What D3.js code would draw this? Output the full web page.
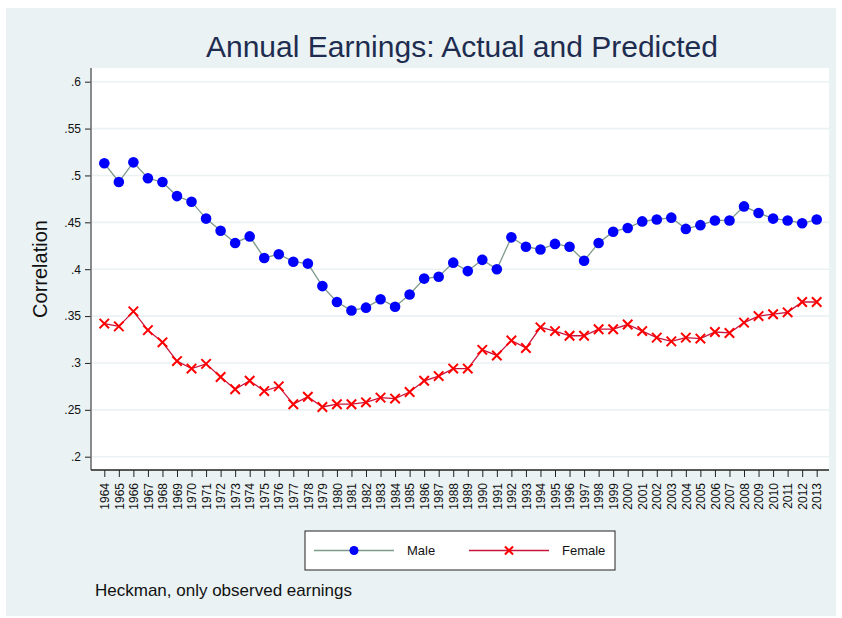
<!DOCTYPE html>
<html>
<head>
<meta charset="utf-8">
<script src="https://cdnjs.cloudflare.com/ajax/libs/d3/7.8.5/d3.min.js"></script>
<style>
  body { margin: 0; background: #fff; }
  text { font-family: Arial, "Liberation Sans", sans-serif; }
</style>
</head>
<body>
<div id="chart"></div>
<script>
// data
const years = d3.range(1964, 2014);
const male = [0.513, 0.493, 0.514, 0.497, 0.493, 0.478, 0.472, 0.454, 0.441, 0.428,
              0.435, 0.412, 0.416, 0.408, 0.406, 0.382, 0.365, 0.356, 0.359, 0.368,
              0.360, 0.373, 0.390, 0.392, 0.407, 0.398, 0.410, 0.400, 0.434, 0.424,
              0.421, 0.427, 0.424, 0.409, 0.428, 0.440, 0.444, 0.451, 0.453, 0.455,
              0.443, 0.447, 0.452, 0.452, 0.467, 0.460, 0.454, 0.452, 0.449, 0.453];
const female = [0.342, 0.339, 0.355, 0.335, 0.322, 0.302, 0.294, 0.299, 0.285, 0.272,
                0.281, 0.270, 0.275, 0.256, 0.264, 0.253, 0.256, 0.256, 0.258, 0.263,
                0.262, 0.269, 0.281, 0.286, 0.294, 0.294, 0.314, 0.308, 0.324, 0.316,
                0.338, 0.334, 0.329, 0.329, 0.336, 0.336, 0.341, 0.334, 0.327, 0.323,
                0.327, 0.326, 0.333, 0.332, 0.343, 0.350, 0.352, 0.354, 0.365, 0.365];
const yTicks = [0.2, 0.25, 0.3, 0.35, 0.4, 0.45, 0.5, 0.55, 0.6];
const yTickLabels = [".2", ".25", ".3", ".35", ".4", ".45", ".5", ".55", ".6"];

const W = 842, H = 618;
const plot = {left: 91, right: 829, top: 68, bottom: 470};

const svg = d3.select("#chart").append("svg")
    .attr("width", W).attr("height", H);

// outer graph region
svg.append("rect")
    .attr("x", 6).attr("y", 8).attr("width", 830).attr("height", 608)
    .attr("fill", "#eaf2f3");

// plot region
svg.append("rect")
    .attr("x", plot.left).attr("y", plot.top)
    .attr("width", plot.right - plot.left).attr("height", plot.bottom - plot.top)
    .attr("fill", "#ffffff");

// scales
const x = d3.scalePoint()
    .domain(years)
    .range([104.3, 816.7]);

const y = d3.scaleLinear()
    .domain([0.2, 0.6])
    .range([456.7, 81.7]);

// gridlines
svg.append("g")
    .selectAll("line")
    .data(yTicks)
    .enter().append("line")
    .attr("x1", plot.left + 1).attr("x2", plot.right)
    .attr("y1", d => y(d)).attr("y2", d => y(d))
    .attr("stroke", "#eaf2f3")
    .attr("stroke-width", 1.6);

// y axis
const yAxis = svg.append("g")
    .attr("transform", "translate(" + plot.left + ",0)")
    .call(d3.axisLeft(y)
        .tickValues(yTicks)
        .tickFormat((d, i) => yTickLabels[i])
        .tickSize(6)
        .tickPadding(4));
yAxis.select(".domain").remove();
yAxis.append("line")
    .attr("x1", 0).attr("x2", 0)
    .attr("y1", plot.top).attr("y2", plot.bottom)
    .attr("stroke", "#666").attr("stroke-width", 1.5);
yAxis.selectAll(".tick line").attr("stroke", "#222");
yAxis.selectAll(".tick text")
    .attr("fill", "#111")
    .style("font-size", "12px");

// x axis
const xAxis = svg.append("g")
    .attr("transform", "translate(0," + plot.bottom + ")")
    .call(d3.axisBottom(x).tickSize(7).tickPadding(3));
xAxis.select(".domain").remove();
xAxis.append("line")
    .attr("x1", plot.left).attr("x2", plot.right)
    .attr("y1", 0).attr("y2", 0)
    .attr("stroke", "#222").attr("stroke-width", 1.3);
xAxis.selectAll(".tick line").attr("stroke", "#222");
xAxis.selectAll(".tick text")
    .attr("fill", "#111")
    .style("font-size", "12px")
    .attr("transform", "rotate(-90)")
    .attr("text-anchor", "end")
    .attr("x", -13)
    .attr("y", 0)
    .attr("dy", "0.35em");

// title
svg.append("text")
    .attr("x", 462).attr("y", 57)
    .attr("text-anchor", "middle")
    .attr("fill", "#1e2c50")
    .style("font-size", "30px")
    .text("Annual Earnings: Actual and Predicted");

// y axis title
svg.append("text")
    .attr("transform", "translate(47," + ((plot.top + plot.bottom) / 2) + ") rotate(-90)")
    .attr("text-anchor", "middle")
    .attr("fill", "#111")
    .style("font-size", "20px")
    .text("Correlation");

// lines
const line = d3.line()
    .x((d, i) => x(years[i]))
    .y(d => y(d));

svg.append("path")
    .datum(male)
    .attr("d", line)
    .attr("fill", "none")
    .attr("stroke", "#7d9a8a")
    .attr("stroke-width", 1.3);

svg.append("path")
    .datum(female)
    .attr("d", line)
    .attr("fill", "none")
    .attr("stroke", "#c8143c")
    .attr("stroke-width", 1.3);

// markers
svg.append("g")
    .selectAll("circle")
    .data(male)
    .enter().append("circle")
    .attr("cx", (d, i) => x(years[i]))
    .attr("cy", d => y(d))
    .attr("r", 5.3)
    .attr("fill", "#0000ff");

const cross = d3.symbol().type(d3.symbolX).size(60);
svg.append("g")
    .selectAll("path")
    .data(female)
    .enter().append("path")
    .attr("d", cross)
    .attr("transform", (d, i) => "translate(" + x(years[i]) + "," + y(d) + ")")
    .attr("fill", "none")
    .attr("stroke", "#ff0000")
    .attr("stroke-width", 2);

// legend
const legend = svg.append("g");
legend.append("rect")
    .attr("x", 305).attr("y", 531)
    .attr("width", 310).attr("height", 39)
    .attr("fill", "#fff")
    .attr("stroke", "#222").attr("stroke-width", 1);

legend.append("line")
    .attr("x1", 314).attr("x2", 394).attr("y1", 550.5).attr("y2", 550.5)
    .attr("stroke", "#7d9a8a").attr("stroke-width", 1.3);
legend.append("circle")
    .attr("cx", 354).attr("cy", 550.5).attr("r", 4.5)
    .attr("fill", "#0000ff");
legend.append("text")
    .attr("x", 407).attr("y", 555)
    .attr("fill", "#111")
    .style("font-size", "13px")
    .text("Male");

legend.append("line")
    .attr("x1", 469).attr("x2", 549).attr("y1", 550.5).attr("y2", 550.5)
    .attr("stroke", "#c8143c").attr("stroke-width", 1.3);
legend.append("path")
    .attr("d", d3.symbol().type(d3.symbolX).size(45))
    .attr("transform", "translate(509,550.5)")
    .attr("fill", "none")
    .attr("stroke", "#ff0000").attr("stroke-width", 2);
legend.append("text")
    .attr("x", 562).attr("y", 555)
    .attr("fill", "#111")
    .style("font-size", "13px")
    .text("Female");

// note
svg.append("text")
    .attr("x", 95).attr("y", 596)
    .attr("fill", "#111")
    .style("font-size", "17px")
    .text("Heckman, only observed earnings");
</script>
</body>
</html>
